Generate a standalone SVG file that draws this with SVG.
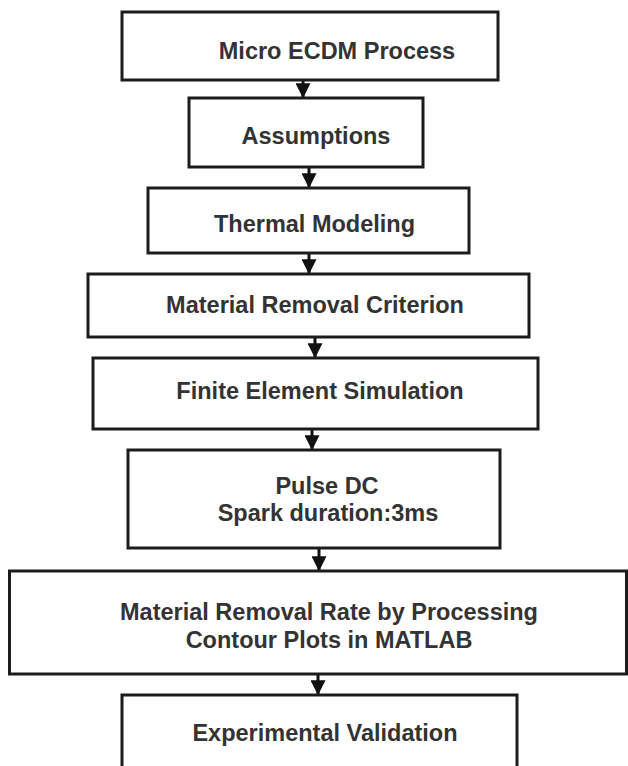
<svg xmlns="http://www.w3.org/2000/svg" width="628" height="766" viewBox="0 0 628 766">
<defs>
<style>
.box{fill:#fff;stroke:#1c1c1c;stroke-width:3}
.lbl{font-family:"Liberation Sans",Arial,sans-serif;font-weight:bold;font-size:23.5px;fill:#333;text-anchor:middle}
.conn{stroke:#111;stroke-width:3;fill:none}
</style>
<marker id="ah" markerWidth="5" markerHeight="5" refX="4.6" refY="2.5" orient="auto" markerUnits="strokeWidth">
<path d="M0,0 L5,2.5 L0,5 Z" fill="#111"/>
</marker>
</defs>
<rect width="628" height="766" fill="#fff"/>
<g id="connectors">
<path class="conn" d="M303,80 V97" marker-end="url(#ah)"/>
<path class="conn" d="M309,167 V187" marker-end="url(#ah)"/>
<path class="conn" d="M309,253 V273" marker-end="url(#ah)"/>
<path class="conn" d="M315,337 V357" marker-end="url(#ah)"/>
<path class="conn" d="M312,429 V449" marker-end="url(#ah)"/>
<path class="conn" d="M319,548 V570" marker-end="url(#ah)"/>
<path class="conn" d="M318,674 V694" marker-end="url(#ah)"/>
</g>
<g id="n1"><rect class="box" x="122" y="12" width="376" height="68"/><text class="lbl" x="337" y="59">Micro ECDM Process</text></g>
<g id="n2"><rect class="box" x="189" y="98" width="234" height="69"/><text class="lbl" x="316" y="144">Assumptions</text></g>
<g id="n3"><rect class="box" x="148" y="188" width="321" height="65"/><text class="lbl" x="314.5" y="232">Thermal Modeling</text></g>
<g id="n4"><rect class="box" x="88" y="274" width="441" height="63"/><text class="lbl" x="315" y="313">Material Removal Criterion</text></g>
<g id="n5"><rect class="box" x="93" y="358" width="445" height="71"/><text class="lbl" x="320" y="399">Finite Element Simulation</text></g>
<g id="n6"><rect class="box" x="128" y="450" width="372" height="98"/><text class="lbl" x="327" y="494">Pulse DC</text><text class="lbl" x="328" y="521">Spark duration:3ms</text></g>
<g id="n7"><rect class="box" x="9.5" y="571" width="617" height="103"/><text class="lbl" x="329" y="620">Material Removal Rate by Processing</text><text class="lbl" x="329" y="648">Contour Plots in MATLAB</text></g>
<g id="n8"><rect class="box" x="122" y="695" width="395" height="80"/><text class="lbl" x="325" y="741">Experimental Validation</text></g>
</svg>
